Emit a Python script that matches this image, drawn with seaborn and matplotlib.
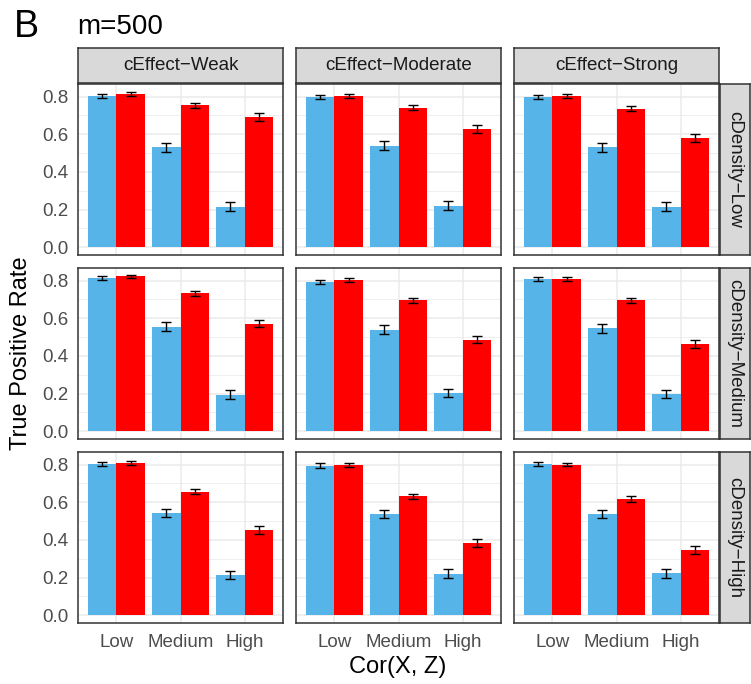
import matplotlib
matplotlib.use("Agg")
import matplotlib.pyplot as plt
import seaborn as sns
import pandas as pd

sns.set_theme(style="white")
plt.rcParams['font.family'] = ['Liberation Sans', 'DejaVu Sans']

# ---- data ----
effects = ["cEffect\u2212Weak", "cEffect\u2212Moderate", "cEffect\u2212Strong"]
densities = ["cDensity\u2212Low", "cDensity\u2212Medium", "cDensity\u2212High"]
cor_levels = ["Low", "Medium", "High"]
methods = ["Method1", "Method2"]
colors = ["#56B4E9", "#FF0000"]

# TPR values [density][effect][method][cor]
tpr_low_weak = [[0.805, 0.530, 0.216], [0.815, 0.753, 0.694]]
tpr_low_moderate = [[0.800, 0.539, 0.221], [0.804, 0.741, 0.629]]
tpr_low_strong = [[0.800, 0.530, 0.216], [0.804, 0.736, 0.581]]
tpr_med_weak = [[0.812, 0.556, 0.195], [0.822, 0.733, 0.572]]
tpr_med_moderate = [[0.791, 0.540, 0.203], [0.802, 0.695, 0.487]]
tpr_med_strong = [[0.807, 0.546, 0.198], [0.807, 0.695, 0.465]]
tpr_high_weak = [[0.805, 0.543, 0.212], [0.810, 0.657, 0.454]]
tpr_high_moderate = [[0.795, 0.537, 0.221], [0.799, 0.631, 0.385]]
tpr_high_strong = [[0.805, 0.538, 0.222], [0.800, 0.617, 0.348]]

# half-width of error bars [method][cor]
err_half = [[0.011, 0.023, 0.022], [0.010, 0.014, 0.021]]

tpr_grid = [
    [tpr_low_weak, tpr_low_moderate, tpr_low_strong],
    [tpr_med_weak, tpr_med_moderate, tpr_med_strong],
    [tpr_high_weak, tpr_high_moderate, tpr_high_strong],
]

rows = []
for di, d in enumerate(densities):
    for ei, e in enumerate(effects):
        for mi, m in enumerate(methods):
            for ci, c in enumerate(cor_levels):
                rows.append(dict(density=d, effect=e, method=m, cor=c,
                                 tpr=tpr_grid[di][ei][mi][ci], err=err_half[mi][ci]))
df = pd.DataFrame(rows)

# ---- layout (pixels) ----
W, H = 751, 684
fig = plt.figure(figsize=(W / 100, H / 100), dpi=100)

col_left = [78, 296, 514]
panel_w = 205
row_top = [84, 268, 452]
panel_h = 171
strip_top_y, strip_h = 48, 35
strip_right_x, strip_w = 720, 30

def frac(x, y, w, h):
    return [x / W, (H - y - h) / H, w / W, h / H]

border_col = "#333333"
strip_fill = "#D9D9D9"
tick_col = "#4D4D4D"
lab_fs = 13.5

for ri, d in enumerate(densities):
    for ci, e in enumerate(effects):
        ax = fig.add_axes(frac(col_left[ci], row_top[ri], panel_w, panel_h))
        sub = df[(df.density == d) & (df.effect == e)]
        sns.barplot(data=sub, x="cor", y="tpr", hue="method", order=cor_levels,
                    hue_order=methods, palette=colors, width=0.9, saturation=1,
                    errorbar=None, legend=False, linewidth=0, ax=ax, zorder=2)
        for cont, m in zip(ax.containers, methods):
            for bar, c in zip(cont, cor_levels):
                r = sub[(sub.method == m) & (sub.cor == c)].iloc[0]
                ax.errorbar(bar.get_x() + bar.get_width() / 2, r.tpr, yerr=r.err,
                            fmt="none", ecolor="black", elinewidth=1.0,
                            capsize=3.6, capthick=1.0, zorder=3)
        ax.set_xlim(-0.6, 2.6)
        ax.set_ylim(-0.0413, 0.867)
        ax.set_yticks([0.0, 0.2, 0.4, 0.6, 0.8])
        ax.set_yticks([0.1, 0.3, 0.5, 0.7], minor=True)
        ax.grid(True, which="major", color="#EBEBEB", linewidth=1.1, zorder=0)
        ax.grid(True, which="minor", axis="y", color="#EBEBEB", linewidth=0.55, zorder=0)
        ax.set_axisbelow(True)
        ax.set_xlabel("")
        ax.set_ylabel("")
        for sp in ax.spines.values():
            sp.set_color(border_col)
            sp.set_linewidth(1.1)
            sp.set_zorder(5)
        ax.tick_params(which="minor", length=0)
        ax.tick_params(axis="both", which="major", length=4.2, width=0.9,
                       color=border_col, labelcolor=tick_col, labelsize=lab_fs, pad=2.5)
        ax.tick_params(axis="x", pad=3.5)
        if ci == 0:
            ax.set_yticklabels(["0.0", "0.2", "0.4", "0.6", "0.8"])
        else:
            ax.tick_params(axis="y", length=0, labelleft=False)
        if ri == 2:
            ax.set_xticks(range(len(cor_levels)))
            ax.set_xticklabels(cor_levels)
        else:
            ax.tick_params(axis="x", length=0, labelbottom=False)

        # top strips
        if ri == 0:
            sax = fig.add_axes(frac(col_left[ci], strip_top_y, panel_w, strip_h))
            sax.set_xticks([]); sax.set_yticks([])
            sax.set_facecolor(strip_fill)
            for sp in sax.spines.values():
                sp.set_color(border_col); sp.set_linewidth(1.1)
            sax.text(0.5, 0.5, e, ha="center", va="center", fontsize=lab_fs,
                     color="#1A1A1A", transform=sax.transAxes)
        # right strips
        if ci == 2:
            sax = fig.add_axes(frac(strip_right_x, row_top[ri], strip_w, panel_h))
            sax.set_xticks([]); sax.set_yticks([])
            sax.set_facecolor(strip_fill)
            for sp in sax.spines.values():
                sp.set_color(border_col); sp.set_linewidth(1.1)
            sax.text(0.5, 0.5, d, ha="center", va="center", fontsize=lab_fs,
                     color="#1A1A1A", rotation=-90, transform=sax.transAxes)

fig.text(14 / W, 1 - 37 / H, "B", fontsize=27, color="black", ha="left", va="baseline")
fig.text(77 / W, 1 - 34 / H, "m=500", fontsize=20, color="black", ha="left", va="baseline")
fig.text(21 / W, 1 - 353 / H, "True Positive Rate", fontsize=17, rotation=90,
         ha="center", va="center", color="black")
fig.text(398 / W, 1 - 667 / H, "Cor(X, Z)", fontsize=17, ha="center", va="center",
         color="black")

fig.savefig("out.png", dpi=100)
